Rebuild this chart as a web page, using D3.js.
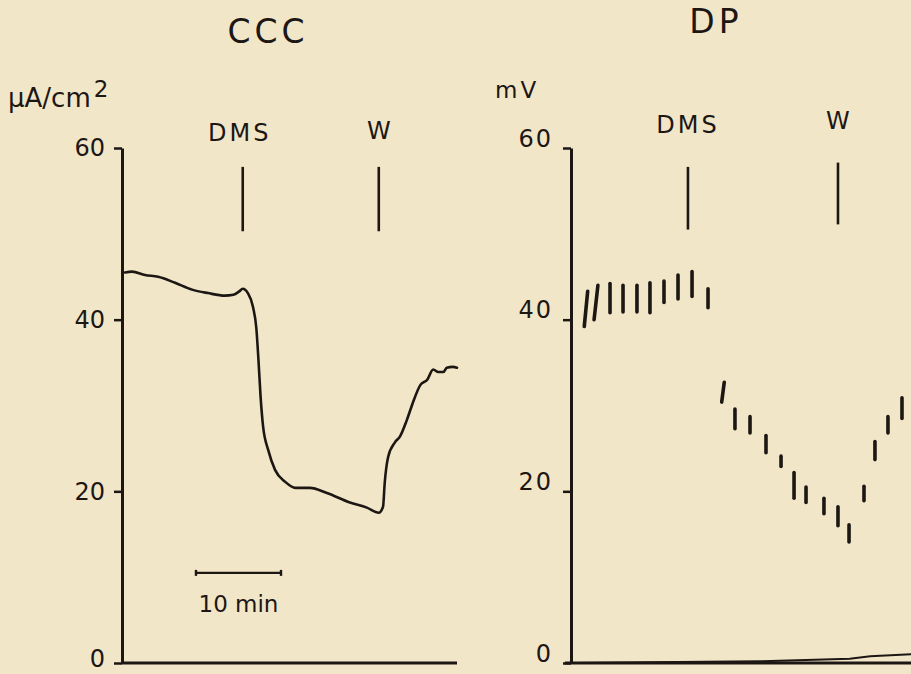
<!DOCTYPE html>
<html>
<head>
<meta charset="utf-8">
<script src="https://cdn.jsdelivr.net/npm/d3@7"></script>
<style>
  html, body { margin: 0; padding: 0; background: #f2e6c9; }
  svg { display: block; }
  text { font-family: "DejaVu Sans", sans-serif; fill: #1d1714; }
</style>
</head>
<body>
<svg id="chart" width="911" height="674"></svg>
<script>
// ---------- DATA ----------
const panelTitles = ["CCC", "DP"];
const unitLabels = ["µA/cm", "mV"];
const yTicks = [0, 20, 40, 60];
const eventLabels = ["DMS", "W"];

// CCC panel: short-circuit current trace (time in min, µA/cm²)
const cccTime  = [0.35, 1.18, 2.71, 4.24, 6.24, 8.24, 10.1, 12.1, 13.1, 13.8, 14.2, 14.8, 15.4, 15.8, 16.05, 16.3, 16.6, 17.2, 18.0, 19.2, 20.4, 22.1, 24.1, 26.8, 28.8, 30.2, 30.7, 30.9, 31.3, 32.1, 32.7, 33.5, 34.2, 35.1, 35.9, 36.6, 37.2, 37.8, 38.2, 38.9, 39.4];
const cccValue = [45.5, 45.6, 45.2, 45.0, 44.3, 43.5, 43.1, 42.8, 42.9, 43.3, 43.6, 43.1, 41.5, 39.0, 35.3, 31.0, 27.5, 24.8, 22.5, 21.1, 20.4, 20.4, 19.8, 18.7, 18.1, 17.5, 18.2, 21.0, 24.0, 25.7, 26.4, 28.3, 30.3, 32.4, 33.0, 34.2, 33.9, 33.9, 34.4, 34.5, 34.4];
const cccEventTime = [14.2, 30.2];

// DP panel: deflections (time in min, top / bottom in mV)
const dpTime   = [1.76, 2.94, 4.59, 6.12, 7.76, 9.29, 10.94, 12.59, 14.24, 16.12,
                  17.88, 19.29, 21.06, 22.94, 24.71, 26.24, 27.65, 29.76, 31.41, 32.71, 34.47, 35.76, 37.29, 38.94];
const dpTop    = [43.3, 44.0, 44.2, 44.0, 44.0, 44.3, 44.5, 45.2, 45.6, 43.6,
                  32.7, 29.6, 28.7, 26.5, 24.1, 22.2, 20.5, 19.2, 18.2, 16.1, 20.6, 25.8, 28.7, 30.9];
const dpBottom = [39.2, 40.0, 40.8, 40.9, 40.9, 40.8, 42.0, 42.4, 42.7, 41.4,
                  30.4, 27.3, 26.8, 24.5, 22.9, 19.2, 18.7, 17.4, 16.0, 14.1, 18.9, 23.7, 26.8, 28.5];
const dpSlant  = [0.4, 0.45, 0, 0, 0, 0, 0, 0, 0, 0,
                  0.3, 0, 0, 0, 0, 0, 0, 0, 0, 0, 0, 0, 0, 0];
const dpEventTime = [13.76, 31.41];
// DP baseline trace near zero
const dpBaseTime  = [0.7, 9.3, 22.2, 32.8, 35.2, 40.5];
const dpBaseValue = [0.0, 0.1, 0.2, 0.5, 0.8, 1.05];

// scale bar
const scaleBarMinutes = 10;
const scaleBarLabel = "10 min";

// ---------- DRAW ----------
const ink = "#1d1714";
const svg = d3.select("#chart");

// scales
const xL = d3.scaleLinear().domain([0, 39.4]).range([122, 457]);
const yL = d3.scaleLinear().domain([0, 60]).range([663, 148]);
const xR = d3.scaleLinear().domain([0, 40]).range([571, 911]);
const yR = d3.scaleLinear().domain([0, 60]).range([663, 148]);

// ----- Left panel (CCC) -----
const gL = svg.append("g");
const axL = gL.append("g")
  .attr("transform", `translate(${xL(0)},0)`)
  .call(d3.axisLeft(yL).tickValues(yTicks).tickSize(8).tickPadding(9).tickSizeOuter(0));
axL.select(".domain").attr("stroke", ink).attr("stroke-width", 3);
axL.selectAll(".tick line").attr("stroke", ink).attr("stroke-width", 2.5);
axL.selectAll(".tick text").attr("font-size", 24).attr("fill", ink)
   .attr("dy", d => d === 0 ? "0.16em" : "0.32em")
   .style("font-family", "DejaVu Sans, sans-serif");
gL.append("line")
  .attr("x1", xL(0)).attr("x2", xL(39.4))
  .attr("y1", yL(0)).attr("y2", yL(0))
  .attr("stroke", ink).attr("stroke-width", 3);

// curve
const cccPts = cccTime.map((t, i) => [t, cccValue[i]]);
gL.append("path")
  .datum(cccPts)
  .attr("fill", "none").attr("stroke", ink).attr("stroke-width", 2.6)
  .attr("stroke-linejoin", "round").attr("stroke-linecap", "round")
  .attr("d", d3.line().x(d => xL(d[0])).y(d => yL(d[1])).curve(d3.curveMonotoneX));

// event markers
cccEventTime.forEach((t, i) => {
  gL.append("line")
    .attr("x1", xL(t)).attr("x2", xL(t))
    .attr("y1", yL(57.8)).attr("y2", yL(50.3))
    .attr("stroke", ink).attr("stroke-width", 2.6);
  gL.append("text")
    .attr("x", xL(t) - (i === 0 ? 3 : 0)).attr("y", yL(i === 0 ? 60.8 : 61.0))
    .attr("text-anchor", "middle").attr("font-size", 24)
    .attr("letter-spacing", i === 0 ? 3 : 0)
    .text(eventLabels[i]);
});

// scale bar
const sbY = yL(10.5);
const sb = gL.append("g").attr("stroke", ink).attr("stroke-width", 2.4);
sb.append("line").attr("x1", xL(8.7)).attr("x2", xL(8.7 + scaleBarMinutes)).attr("y1", sbY).attr("y2", sbY);
sb.append("line").attr("x1", xL(8.7)).attr("x2", xL(8.7)).attr("y1", sbY - 3).attr("y2", sbY + 3);
sb.append("line").attr("x1", xL(8.7 + scaleBarMinutes)).attr("x2", xL(8.7 + scaleBarMinutes)).attr("y1", sbY - 3).attr("y2", sbY + 3);
gL.append("text")
  .attr("x", xL(8.7 + scaleBarMinutes / 2)).attr("y", sbY + 39)
  .attr("text-anchor", "middle").attr("font-size", 23)
  .text(scaleBarLabel);

// title and unit
gL.append("text").attr("x", 268).attr("y", 43).attr("text-anchor", "middle")
  .attr("font-size", 33).attr("letter-spacing", 4).text(panelTitles[0]);
const uL = gL.append("text").attr("x", 8).attr("y", 107).attr("font-size", 26);
uL.append("tspan").text(unitLabels[0]);
uL.append("tspan").attr("dy", -10).attr("dx", 3).attr("font-size", 23).text("2");

// ----- Right panel (DP) -----
const gR = svg.append("g");
const axR = gR.append("g")
  .attr("transform", `translate(${xR(0)},0)`)
  .call(d3.axisLeft(yR).tickValues(yTicks).tickSize(8).tickPadding(10).tickSizeOuter(0));
axR.select(".domain").attr("stroke", ink).attr("stroke-width", 3);
axR.selectAll(".tick line").attr("stroke", ink).attr("stroke-width", 2.5);
axR.selectAll(".tick text").attr("font-size", 24).attr("fill", ink).attr("dy", "-0.08em")
   .attr("letter-spacing", 2)
   .style("font-family", "DejaVu Sans, sans-serif");
gR.append("line")
  .attr("x1", xR(0) - 6).attr("x2", xR(41))
  .attr("y1", yR(0)).attr("y2", yR(0))
  .attr("stroke", ink).attr("stroke-width", 3);

// baseline trace
gR.append("path")
  .datum(dpBaseTime.map((t, i) => [t, dpBaseValue[i]]))
  .attr("fill", "none").attr("stroke", ink).attr("stroke-width", 2)
  .attr("d", d3.line().x(d => xR(d[0])).y(d => yR(d[1])));

// deflections
gR.selectAll("line.defl")
  .data(dpTime.map((t, i) => ({ t, top: dpTop[i], bot: dpBottom[i], s: dpSlant[i] })))
  .join("line").attr("class", "defl")
  .attr("x1", d => xR(d.t + d.s / 2)).attr("x2", d => xR(d.t - d.s / 2))
  .attr("y1", d => yR(d.top)).attr("y2", d => yR(d.bot))
  .attr("stroke", ink).attr("stroke-width", 3.6).attr("stroke-linecap", "round");

// event markers
dpEventTime.forEach((t, i) => {
  gR.append("line")
    .attr("x1", xR(t)).attr("x2", xR(t))
    .attr("y1", yR(i === 0 ? 57.8 : 58.3)).attr("y2", yR(i === 0 ? 50.5 : 51.1))
    .attr("stroke", ink).attr("stroke-width", 2.6);
  gR.append("text")
    .attr("x", xR(t)).attr("y", yR(i === 0 ? 61.8 : 62.2))
    .attr("text-anchor", "middle").attr("font-size", 24)
    .attr("letter-spacing", i === 0 ? 3 : 0)
    .text(eventLabels[i]);
});

gR.append("text").attr("x", 716).attr("y", 33).attr("text-anchor", "middle")
  .attr("font-size", 33).attr("letter-spacing", 4).text(panelTitles[1]);
gR.append("text").attr("x", 495).attr("y", 98).attr("font-size", 23)
  .attr("letter-spacing", 3).text(unitLabels[1]);
</script>
</body>
</html>
